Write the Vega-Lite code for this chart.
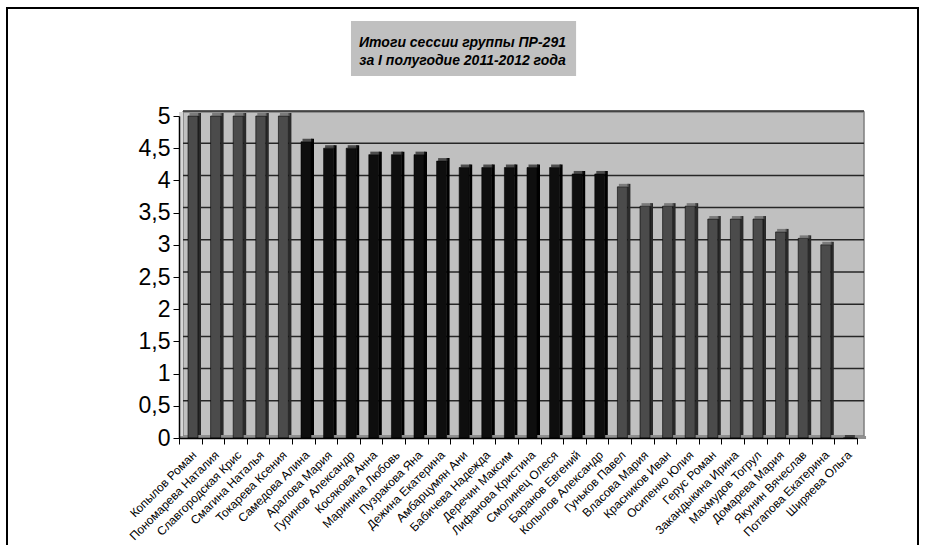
{
  "$schema": "https://vega.github.io/schema/vega-lite/v6.json",
  "width": 911,
  "height": 560,
  "autosize": {"type": "none"},
  "padding": {"left": 7, "top": 8, "right": 8, "bottom": 0},
  "background": "white",
  "view": {"stroke": "#000000", "strokeWidth": 2, "fill": "white"},
  "config": {"font": "Liberation Sans"},
  "title": {
    "text": ["Итоги сессии группы ПР-291", "за I полугодие 2011-2012 года"],
    "font": "Liberation Sans",
    "fontSize": 14,
    "fontStyle": "italic",
    "fontWeight": "bold",
    "color": "#000000",
    "anchor": "middle",
    "frame": "group",
    "lineHeight": 18,
    "offset": -60
  },
  "datasets": {
    "grades": [
      {"name": "Копылов Роман", "score": 5},
      {"name": "Пономарева Наталия", "score": 5},
      {"name": "Славгородская Крис", "score": 5},
      {"name": "Смагина Наталья", "score": 5},
      {"name": "Токарева Ксения", "score": 5},
      {"name": "Самедова Алина", "score": 4.6},
      {"name": "Аралова Мария", "score": 4.5},
      {"name": "Гуринов Александр", "score": 4.5},
      {"name": "Косякова Анна", "score": 4.4},
      {"name": "Маринина Любовь", "score": 4.4},
      {"name": "Пузракова Яна", "score": 4.4},
      {"name": "Дежина Екатерина", "score": 4.3},
      {"name": "Амбарцумян Ани", "score": 4.2},
      {"name": "Бабичева Надежда", "score": 4.2},
      {"name": "Деречин Максим", "score": 4.2},
      {"name": "Лифанова Кристина", "score": 4.2},
      {"name": "Смолинец Олеся", "score": 4.2},
      {"name": "Баранов Евгений", "score": 4.1},
      {"name": "Копылов Александр", "score": 4.1},
      {"name": "Гуньков Павел", "score": 3.9},
      {"name": "Власова Мария", "score": 3.6},
      {"name": "Красников Иван", "score": 3.6},
      {"name": "Осипенко Юлия", "score": 3.6},
      {"name": "Герус Роман", "score": 3.4},
      {"name": "Закандыкина Ирина", "score": 3.4},
      {"name": "Махмудов Тогрул", "score": 3.4},
      {"name": "Домарева Мария", "score": 3.2},
      {"name": "Якунин Вячеслав", "score": 3.1},
      {"name": "Потапова Екатерина", "score": 3},
      {"name": "Ширяева Ольга", "score": 0}
    ],
    "grid": [
      {"v": 0.5}, {"v": 1}, {"v": 1.5}, {"v": 2}, {"v": 2.5},
      {"v": 3}, {"v": 3.5}, {"v": 4}, {"v": 4.5}, {"v": 5}
    ]
  },
  "layer": [
    {
      "data": {"values": [{}]},
      "mark": {"type": "rect", "fill": "#c0c0c0", "stroke": "#7f7f7f", "strokeWidth": 1.5},
      "encoding": {
        "x": {"datum": 0.177, "type": "quantitative", "scale": {"domain": [0, 30], "range": [172, 850], "nice": false, "zero": false}, "axis": null},
        "x2": {"datum": 30.31},
        "y": {"datum": 0.031, "type": "quantitative", "scale": {"domain": [0, 5], "range": [430, 108], "nice": false, "zero": false}, "axis": null},
        "y2": {"datum": 5.062}
      }
    },
    {
      "data": {"values": [{}]},
      "mark": {"type": "rect", "fill": "#d6d6d6"},
      "encoding": {
        "x": {"datum": 0, "type": "quantitative", "scale": {"domain": [0, 30], "range": [172, 850], "nice": false, "zero": false}, "axis": null},
        "x2": {"datum": 0.177},
        "y": {"datum": 0, "type": "quantitative", "scale": {"domain": [0, 5], "range": [430, 108], "nice": false, "zero": false}, "axis": null},
        "y2": {"datum": 5.062}
      }
    },
    {
      "data": {"values": [{}]},
      "mark": {"type": "rect", "fill": "#8f8f8f"},
      "encoding": {
        "x": {"datum": 0, "type": "quantitative", "scale": {"domain": [0, 30], "range": [172, 850], "nice": false, "zero": false}, "axis": null},
        "x2": {"datum": 30.4},
        "y": {"datum": -0.016, "type": "quantitative", "scale": {"domain": [0, 5], "range": [430, 108], "nice": false, "zero": false}, "axis": null},
        "y2": {"datum": 0.031}
      }
    },
    {
      "data": {"name": "grid"},
      "mark": {"type": "rule", "stroke": "#262626", "strokeWidth": 1.5, "yOffset": -5},
      "encoding": {
        "x": {"datum": 0.177, "type": "quantitative", "scale": {"domain": [0, 30], "range": [172, 850], "nice": false, "zero": false}, "axis": null},
        "x2": {"datum": 30.31},
        "y": {"field": "v", "type": "quantitative", "scale": {"domain": [0, 5], "range": [430, 108], "nice": false, "zero": false}, "axis": null}
      }
    },
    {
      "data": {"values": [{}]},
      "mark": {"type": "rect", "fill": "#c0c0c0"},
      "encoding": {
        "x": {"datum": 7.61, "type": "quantitative", "scale": {"domain": [0, 30], "range": [172, 850], "nice": false, "zero": false}, "axis": null},
        "x2": {"datum": 17.57},
        "y": {"datum": 5.621, "type": "quantitative", "scale": {"domain": [0, 5], "range": [430, 108], "nice": false, "zero": false}, "axis": null},
        "y2": {"datum": 6.475}
      }
    },
    {
      "data": {"name": "grades"},
      "mark": {"type": "bar", "size": 3, "xOffset": 9.2, "yOffset": -3},
      "encoding": {
        "x": {"field": "name", "type": "nominal", "sort": null, "scale": {"type": "band", "range": [172, 850], "paddingInner": 0, "paddingOuter": 0}, "axis": null},
        "y": {"field": "score", "type": "quantitative", "scale": {"domain": [0, 5], "range": [430, 108], "nice": false, "zero": false}, "axis": null},
        "color": {
          "condition": {"test": "(datum.score >= 4 && datum.score < 5) || datum.score == 0", "value": "#000000"},
          "value": "#2a2a2a"
        }
      }
    },
    {
      "data": {"name": "grades"},
      "mark": {"type": "bar", "size": 10, "xOffset": 2.7, "stroke": "#000000", "strokeWidth": 0.6},
      "encoding": {
        "x": {
          "field": "name", "type": "nominal", "sort": null,
          "scale": {"type": "band", "range": [172, 850], "paddingInner": 0, "paddingOuter": 0},
          "axis": {
            "title": null,
            "orient": "bottom",
            "offset": -130,
            "zindex": 2,
            "tickBand": "extent",
            "tickSize": 6,
            "tickColor": "#000000",
            "domainColor": "#000000",
            "domainWidth": 1.5,
            "labelAngle": -45,
            "labelAlign": "right",
            "labelBaseline": "top",
            "labelPadding": 5,
            "labelFont": "Liberation Sans",
            "labelFontSize": 12,
            "labelColor": "#000000",
            "labelOverlap": false,
            "grid": false
          }
        },
        "y": {
          "field": "score", "type": "quantitative",
          "scale": {"domain": [0, 5], "range": [430, 108], "nice": false, "zero": false},
          "axis": {
            "title": null,
            "orient": "left",
            "offset": -172,
            "zindex": 2,
            "values": [0, 0.5, 1, 1.5, 2, 2.5, 3, 3.5, 4, 4.5, 5],
            "labelExpr": "replace(format(datum.value, '~g'), '.', ',')",
            "tickSize": 6,
            "tickColor": "#000000",
            "domainColor": "#000000",
            "domainWidth": 1.5,
            "labelPadding": 3,
            "labelFont": "Liberation Sans",
            "labelFontSize": 23,
            "labelColor": "#000000",
            "grid": false
          }
        },
        "color": {
          "condition": {"test": "(datum.score >= 4 && datum.score < 5) || datum.score == 0", "value": "#0e0e0e"},
          "value": "#4b4b4b"
        }
      }
    },
    {
      "data": {"name": "grades"},
      "mark": {"type": "tick", "size": 10, "thickness": 3, "xOffset": 4.2, "yOffset": -1.5},
      "encoding": {
        "x": {"field": "name", "type": "nominal", "sort": null, "scale": {"type": "band", "range": [172, 850], "paddingInner": 0, "paddingOuter": 0}, "axis": null},
        "y": {"field": "score", "type": "quantitative", "scale": {"domain": [0, 5], "range": [430, 108], "nice": false, "zero": false}, "axis": null},
        "color": {
          "condition": {"test": "(datum.score >= 4 && datum.score < 5) || datum.score == 0", "value": "#1c1c1c"},
          "value": "#5e5e5e"
        }
      }
    }
  ],
  "resolve": {"scale": {"x": "independent"}, "axis": {"x": "independent", "y": "independent"}}
}
